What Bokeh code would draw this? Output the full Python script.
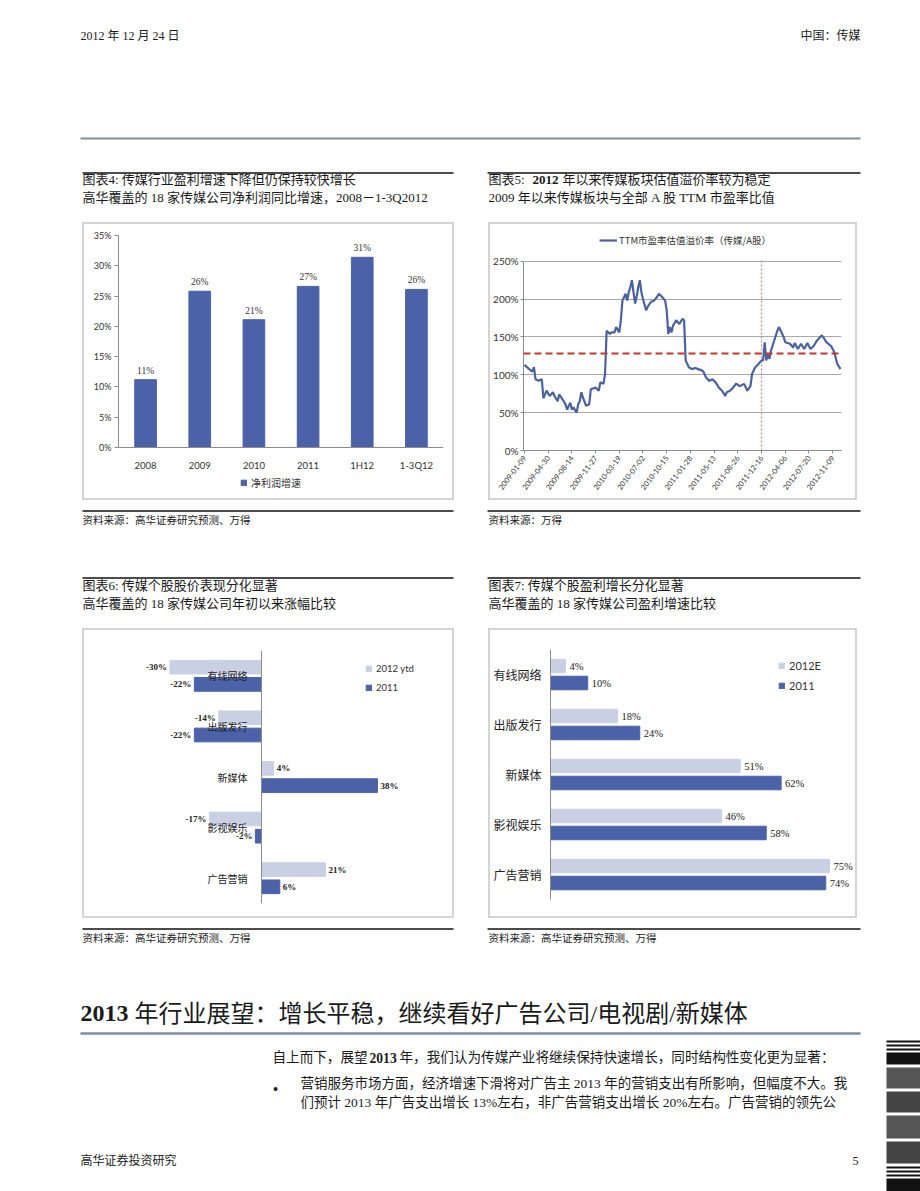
from bokeh.plotting import figure
from bokeh.models import (Range1d, FactorRange, Label, Legend, LegendItem, Span, FixedTicker,
                          PrintfTickFormatter, ColumnDataSource, Spacer)
from bokeh.layouts import row, column
from bokeh.transform import dodge
from bokeh.embed import file_html
from bokeh.resources import INLINE

# ---------------- data ----------------
cats4 = ["2008", "2009", "2010", "2011", "1H12", "1-3Q12"]
growth4 = [11.2, 25.8, 21.1, 26.6, 31.4, 26.1]
yticks4 = [0, 5, 10, 15, 20, 25, 30, 35]

weeks5 = [0, 3, 5, 6, 7, 9, 11, 12, 14, 16, 18, 19, 21, 22, 24, 26, 27, 29, 30, 31, 33, 34, 35, 36, 37,
          39, 41, 42, 45, 47, 48, 50, 51, 52, 54, 55, 57, 58, 60, 61, 62, 64, 65, 66, 67, 68, 69, 70,
          71, 72, 73, 74, 75, 77, 78, 80, 82, 84, 85, 87, 89, 90, 91, 92, 93, 94, 96, 98, 100, 101,
          102, 104, 106, 108, 110, 113, 115, 117, 119, 121, 123, 125, 127, 128, 130, 132, 134, 136,
          139, 141, 143, 144, 146, 148, 150, 151, 152, 153, 154, 155, 156, 158, 160, 161, 164, 165,
          168, 170, 171, 173, 175, 177, 179, 181, 183, 185, 188, 189, 191, 194, 196, 198, 200]
ratio5 = [113, 107.5, 104, 110, 94, 92, 94, 69, 79, 72, 77, 72, 65, 74, 68, 61, 54, 63, 54, 57, 50, 61,
          65, 77, 70, 59, 61, 81, 83, 79, 90, 88, 101, 158, 154, 156, 156, 163, 156, 172, 198, 207,
          198, 209, 216, 225, 209, 194, 203, 216, 225, 209, 200, 185, 190, 196, 198, 203, 207, 203,
          198, 185, 154, 163, 156, 165, 172, 167, 174, 172, 119, 110, 107.5, 109, 107.5, 105, 96, 92,
          94, 90, 83, 79, 72, 77, 79, 83, 88.5, 85, 88, 79, 85, 101, 110, 114, 119, 119, 143, 119,
          127, 121, 132, 145, 158, 163, 150, 143, 141, 136, 142, 134, 141, 134, 142, 134, 138, 145,
          152, 150, 143, 138, 130, 114, 107.5]
date_ticks5 = [0, 15, 30, 45, 60, 75, 90, 105, 120, 135, 150, 165, 180, 195]
date_labels5 = ["2009-01-09", "2009-04-30", "2009-08-14", "2009-11-27", "2010-03-19", "2010-07-02",
                "2010-10-15", "2011-01-28", "2011-05-13", "2011-08-26", "2011-12-16", "2012-04-06",
                "2012-07-20", "2012-11-09"]
avg5 = 128
mark_week5 = 150
yticks5 = [0, 50, 100, 150, 200, 250]

cats6 = ["有线网络", "出版发行", "新媒体", "影视娱乐", "广告营销"]
ytd2012_6 = [-30, -14, 4, -17, 21]
y2011_6 = [-22, -22, 38, -2, 6]

cats7 = ["有线网络", "出版发行", "新媒体", "影视娱乐", "广告营销"]
e2012_7 = [4, 18, 51, 46, 75]
y2011_7 = [10, 24, 62, 58, 74]

# ---------------- styles ----------------
CJK = "Noto Sans CJK SC"
SERIF = "Liberation Serif, Noto Sans CJK SC"
SANS = "Lato"
DARK = "#4b62a8"
LIGHT = "#c9d0e4"
AXIS = "#8c8c8c"
BOXC = "#d4d4d4"


def page(y0, y1):
    p = figure(width=920, height=y1 - y0, x_range=Range1d(0, 920), y_range=Range1d(y1, y0),
               output_backend="svg", toolbar_location=None, min_border=0,
               x_axis_type=None, y_axis_type=None, outline_line_color=None)
    return p


def txt(p, x, y, s, size, bold=False, align="left", font=SERIF, color="#1a1a1a"):
    p.add_layout(Label(x=x, y=y, text=s, text_font_size=f"{size}px",
                       text_font_style="bold" if bold else "normal", text_align=align,
                       text_baseline="middle", text_font=font, text_color=color))


def hline(p, x0, x1, y, color="#111111", w=1.3):
    p.line([x0, x1], [y, y], line_color=color, line_width=w)


def framed(fig, w, h, t=2):
    st = {"background-color": BOXC}
    return column(Spacer(width=w, height=t, styles=st),
                  row(Spacer(width=t, height=h - 2 * t, styles=st), fig,
                      Spacer(width=t, height=h - 2 * t, styles=st)),
                  Spacer(width=w, height=t, styles=st))


# ---------------- page top ----------------
pa = page(0, 222)
txt(pa, 80, 35, "2012 年 12 月 24 日", 12)
txt(pa, 860, 35, "中国：传媒", 12, align="right")
hline(pa, 80, 860, 138, "#7d8ea6", 2)
hline(pa, 82, 453, 172.5)
hline(pa, 487, 860, 172.5)
txt(pa, 82, 179, "图表4: 传媒行业盈利增速下降但仍保持较快增长", 13)
txt(pa, 82, 197, "高华覆盖的 18 家传媒公司净利润同比增速，2008－1-3Q2012", 13)
txt(pa, 488, 179, "图表5:", 13)
txt(pa, 532, 179, "2012", 13, bold=True)
txt(pa, 562, 179, "年以来传媒板块估值溢价率较为稳定", 13)
txt(pa, 488, 197, "2009 年以来传媒板块与全部 A 股 TTM 市盈率比值", 13)

# ---------------- chart 4 ----------------
p4 = figure(width=368, height=274, x_range=FactorRange(factors=cats4, range_padding=0),
            y_range=Range1d(-8.42, 35), output_backend="svg", toolbar_location=None,
            min_border_left=34, min_border_right=9, min_border_top=11, min_border_bottom=0,
            outline_line_color=None)
p4.grid.visible = False
bars4 = p4.vbar(x=cats4, top=growth4, width=0.4, fill_color=DARK, line_color=DARK)
p4.text(x=cats4, y=growth4, text=[f"{round(v)}%" for v in growth4], y_offset=-4,
        text_align="center", text_baseline="bottom", text_font_size="9.5px",
        text_font=SANS, text_color="#333333")
p4.yaxis.ticker = FixedTicker(ticks=yticks4)
p4.yaxis.formatter = PrintfTickFormatter(format="%d%%")
p4.yaxis.bounds = (0, 35)
p4.xaxis.fixed_location = 0
for ax in (p4.xaxis, p4.yaxis):
    ax.axis_line_color = AXIS
    ax.major_tick_line_color = AXIS
    ax.minor_tick_line_color = None
    ax.major_tick_in = 0
    ax.major_tick_out = 4
    ax.major_label_text_font = SANS
    ax.major_label_text_color = "#333333"
p4.yaxis.major_label_text_font_size = "9px"
p4.yaxis.major_label_standoff = 3
p4.xaxis.major_tick_line_color = None
p4.xaxis.major_label_text_font_size = "9.5px"
p4.xaxis.major_label_standoff = 9
leg4 = Legend(items=[LegendItem(label="净利润增速", renderers=[bars4])], location=(122, 8),
              glyph_width=7, glyph_height=7, label_text_font=CJK, label_text_font_size="10px",
              label_text_color="#333333", padding=0, margin=0, border_line_color=None,
              background_fill_alpha=0, label_standoff=4)
p4.add_layout(leg4, "center")

# ---------------- chart 5 ----------------
p5 = figure(width=365, height=274, x_range=Range1d(-0.6, 200.6), y_range=Range1d(0, 298.5),
            output_backend="svg", toolbar_location=None,
            min_border_left=29, min_border_right=14, min_border_top=0, min_border_bottom=48,
            outline_line_color=None)
p5.xgrid.visible = False
p5.ygrid.ticker = FixedTicker(ticks=yticks5)
p5.ygrid.grid_line_color = "#a9a9a9"
p5.ygrid.grid_line_width = 1
p5.yaxis.ticker = FixedTicker(ticks=yticks5)
p5.yaxis.formatter = PrintfTickFormatter(format="%d%%")
p5.yaxis.bounds = (yticks5[0], yticks5[-1])
p5.xaxis.ticker = FixedTicker(ticks=date_ticks5)
p5.xaxis.major_label_overrides = {t: s for t, s in zip(date_ticks5, date_labels5)}
p5.xaxis.major_label_orientation = 0.92
for ax in (p5.xaxis, p5.yaxis):
    ax.axis_line_color = AXIS
    ax.major_tick_line_color = AXIS
    ax.minor_tick_line_color = None
    ax.major_tick_in = 0
    ax.major_tick_out = 3
    ax.major_label_text_font = SANS
    ax.major_label_text_color = "#333333"
p5.yaxis.major_label_text_font_size = "10px"
p5.yaxis.major_label_standoff = 2
p5.xaxis.major_label_text_font_size = "7.5px"
p5.xaxis.major_label_standoff = 3
p5.add_layout(Span(location=avg5, dimension="width", line_color="#c8372d", line_dash="7 4",
                   line_width=2))
p5.line([mark_week5, mark_week5], [yticks5[0], yticks5[-1] + 3], line_color="#c98a80",
        line_dash="2 2", line_width=1.2)
line5 = p5.line(weeks5, ratio5, line_color="#4a62a0", line_width=2.2)
leg5 = Legend(items=[LegendItem(label="TTM市盈率估值溢价率（传媒/A股）", renderers=[line5])],
              location=(76, 203), glyph_width=18, glyph_height=10, label_text_font=CJK,
              label_text_font_size="9.5px", label_text_color="#333333", padding=0, margin=0,
              border_line_color=None, background_fill_alpha=0, label_standoff=2)
p5.add_layout(leg5, "center")

# ---------------- middle text ----------------
pc = page(500, 628)
hline(pc, 82, 453, 510.5)
hline(pc, 487, 860, 510.5)
txt(pc, 82, 519.5, "资料来源：高华证券研究预测、万得", 10.5)
txt(pc, 488, 519.5, "资料来源：万得", 10.5)
hline(pc, 82, 453, 577.5)
hline(pc, 487, 860, 577.5)
txt(pc, 82, 585, "图表6: 传媒个股股价表现分化显著", 13)
txt(pc, 82, 603, "高华覆盖的 18 家传媒公司年初以来涨幅比较", 13)
txt(pc, 488, 585, "图表7: 传媒个股盈利增长分化显著", 13)
txt(pc, 488, 603, "高华覆盖的 18 家传媒公司盈利增速比较", 13)

# ---------------- chart 6 ----------------
p6 = figure(width=368, height=286, x_range=Range1d(-58.0, 62.6),
            y_range=FactorRange(factors=list(reversed(cats6)), range_padding=0),
            output_backend="svg", toolbar_location=None,
            min_border_left=0, min_border_right=0, min_border_top=20, min_border_bottom=13,
            outline_line_color=None)
p6.grid.visible = False
p6.xaxis.visible = False
p6.yaxis.fixed_location = 0
p6.yaxis.axis_line_color = AXIS
p6.yaxis.major_tick_line_color = None
p6.yaxis.minor_tick_line_color = None
p6.yaxis.major_label_text_font = CJK
p6.yaxis.major_label_text_font_size = "10px"
p6.yaxis.major_label_text_color = "#222222"
p6.yaxis.major_label_standoff = 8
src6 = ColumnDataSource(dict(cat=cats6, ytd=ytd2012_6, y11=y2011_6))
r6a = p6.hbar(y=dodge("cat", 0.17, range=p6.y_range), left=0, right="ytd", height=0.27,
              fill_color=LIGHT, line_color=LIGHT, source=src6)
r6b = p6.hbar(y=dodge("cat", -0.17, range=p6.y_range), left=0, right="y11", height=0.27,
              fill_color=DARK, line_color=DARK, source=src6)
for vals, off in ((ytd2012_6, 0.17), (y2011_6, -0.17)):
    for sign in (-1, 1):
        sel = [(c, v) for c, v in zip(cats6, vals) if (v < 0) == (sign < 0)]
        if not sel:
            continue
        s = ColumnDataSource(dict(cat=[c for c, _ in sel], v=[v for _, v in sel],
                                  lab=[f"{v}%" for _, v in sel]))
        p6.text(x="v", y=dodge("cat", off, range=p6.y_range), text="lab", source=s,
                text_align="right" if sign < 0 else "left", x_offset=-3 if sign < 0 else 3,
                text_baseline="middle", text_font=SANS, text_font_style="bold",
                text_font_size="9px", text_color="#222222")
leg6 = Legend(items=[LegendItem(label="2012 ytd", renderers=[r6a]),
                     LegendItem(label="2011", renderers=[r6b])],
              location=(281, 210), glyph_width=7, glyph_height=7, label_text_font=SANS,
              label_text_font_size="9.5px", label_text_color="#333333", padding=0, margin=0,
              spacing=8, border_line_color=None, background_fill_alpha=0, label_standoff=4)
p6.add_layout(leg6, "center")

# ---------------- chart 7 ----------------
p7 = figure(width=365, height=286, x_range=Range1d(0, 82),
            y_range=FactorRange(factors=list(reversed(cats7)), range_padding=0),
            output_backend="svg", toolbar_location=None,
            min_border_left=57, min_border_right=0, min_border_top=19, min_border_bottom=17,
            outline_line_color=None)
p7.grid.visible = False
p7.xaxis.visible = False
p7.yaxis.axis_line_color = AXIS
p7.yaxis.major_tick_line_color = None
p7.yaxis.minor_tick_line_color = None
p7.yaxis.major_label_text_font = CJK
p7.yaxis.major_label_text_font_size = "12px"
p7.yaxis.major_label_text_color = "#222222"
p7.yaxis.major_label_standoff = 3
src7 = ColumnDataSource(dict(cat=cats7, e12=e2012_7, y11=y2011_7,
                             l12=[f"{v}%" for v in e2012_7], l11=[f"{v}%" for v in y2011_7]))
r7a = p7.hbar(y=dodge("cat", 0.17, range=p7.y_range), left=0, right="e12", height=0.27,
              fill_color=LIGHT, line_color=LIGHT, source=src7)
r7b = p7.hbar(y=dodge("cat", -0.17, range=p7.y_range), left=0, right="y11", height=0.27,
              fill_color=DARK, line_color=DARK, source=src7)
for col, lab, off in (("e12", "l12", 0.17), ("y11", "l11", -0.17)):
    p7.text(x=col, y=dodge("cat", off, range=p7.y_range), text=lab, source=src7,
            x_offset=4, text_align="left", text_baseline="middle", text_font=SANS,
            text_font_size="10.5px", text_color="#222222")
leg7 = Legend(items=[LegendItem(label="2012E", renderers=[r7a]),
                     LegendItem(label="2011", renderers=[r7b])],
              location=(228, 207), glyph_width=7, glyph_height=7, label_text_font=SANS,
              label_text_font_size="11px", label_text_color="#333333", padding=0, margin=0,
              spacing=7, border_line_color=None, background_fill_alpha=0, label_standoff=4)
p7.add_layout(leg7, "center")

# ---------------- bottom text ----------------
pe = page(918, 1191)
hline(pe, 82, 453, 928.5)
hline(pe, 487, 860, 928.5)
txt(pe, 82, 938, "资料来源：高华证券研究预测、万得", 10.5)
txt(pe, 488, 938, "资料来源：高华证券研究预测、万得", 10.5)
txt(pe, 80, 1013, "2013", 24, bold=True)
txt(pe, 134, 1013, "年行业展望：增长平稳，继续看好广告公司/电视剧/新媒体", 24)
hline(pe, 80, 860, 1033, "#7d8ea6", 2.5)
txt(pe, 272, 1057, "自上而下，展望", 13.6)
txt(pe, 369, 1057, "2013", 13.6, bold=True)
txt(pe, 399, 1057, "年，我们认为传媒产业将继续保持快速增长，同时结构性变化更为显著：", 13.6)
txt(pe, 275, 1089, "•", 16, align="center")
txt(pe, 300, 1083, "营销服务市场方面，经济增速下滑将对广告主 2013 年的营销支出有所影响，但幅度不大。我", 13.5)
txt(pe, 300, 1102, "们预计 2013 年广告支出增长 13%左右，非广告营销支出增长 20%左右。广告营销的领先公", 13.5)
txt(pe, 80, 1160, "高华证券投资研究", 12)
txt(pe, 858, 1160, "5", 12, align="right")
# barcode-like decoration at the right edge
bc_top = [1040, 1044, 1048, 1052, 1067, 1091, 1115, 1141, 1166, 1170, 1174, 1178]
bc_bot = [1042, 1046, 1050, 1064, 1088, 1112, 1138, 1163, 1168, 1172, 1176, 1191]
bc_col = ["#111", "#111", "#111", "#111", "#555", "#444", "#555", "#444", "#111", "#111", "#111", "#111"]
pe.quad(left=886, right=920, top=bc_top, bottom=bc_bot, fill_color=bc_col, line_color=None)

# ---------------- layout ----------------
rowB = row(Spacer(width=82, height=278), framed(p4, 372, 278), Spacer(width=34, height=278),
           framed(p5, 369, 278), Spacer(width=63, height=278))
rowD = row(Spacer(width=82, height=290), framed(p6, 372, 290), Spacer(width=34, height=290),
           framed(p7, 369, 290), Spacer(width=63, height=290))
layout = column(pa, rowB, pc, rowD, pe)

open("out.html", "w").write(file_html(layout, INLINE))
